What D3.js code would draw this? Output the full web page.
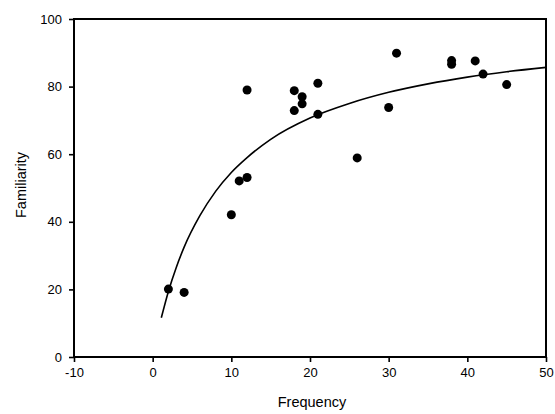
<!DOCTYPE html>
<html>
<head>
<meta charset="utf-8">
<script src="https://cdn.jsdelivr.net/npm/d3@7"></script>
<style>
  html, body { margin: 0; padding: 0; background: #fff; }
  svg { display: block; }
  text { font-family: "Liberation Sans", Arial, sans-serif; fill: #000; }
</style>
</head>
<body>
<svg id="chart"></svg>
<script>
// points
var freq = [2, 4, 10, 11, 12, 12, 18, 18, 19, 19, 21, 21, 26, 30, 31, 38, 38, 41, 42, 45];
var fam  = [20.1, 19.1, 42.1, 52.1, 53.1, 79.0, 78.8, 72.9, 77.0, 74.9, 81.0, 71.8, 58.9, 73.8, 89.9, 87.7, 86.6, 87.6, 83.7, 80.6];

// fitted curve as it appears in the picture
var curveX = [1.1, 2, 3, 4, 6, 8, 10, 12, 15, 20, 25, 30, 35, 40, 45, 50];
var curveY = [11.6, 19.4, 26.5, 32.5, 41.8, 49.0, 54.6, 59.0, 64.4, 70.7, 75.0, 78.3, 80.8, 82.8, 84.4, 85.7];

var xTicks = [-10, 0, 10, 20, 30, 40, 50];
var yTicks = [0, 20, 40, 60, 80, 100];

var svgWidth = 555, svgHeight = 414;
var margin = {top: 19, right: 9, bottom: 57, left: 74};
var width = svgWidth - margin.left - margin.right;
var height = svgHeight - margin.top - margin.bottom;

var xScale = d3.scaleLinear().domain([-10, 50]).range([0, width]);
var yScale = d3.scaleLinear().domain([0, 100]).range([height, 0]);

var svg = d3.select("#chart")
    .attr("width", svgWidth)
    .attr("height", svgHeight);

var g = svg.append("g")
    .attr("transform", "translate(" + margin.left + "," + margin.top + ")");

// frame
g.append("rect")
    .attr("x", 0).attr("y", 0)
    .attr("width", width).attr("height", height)
    .attr("fill", "none")
    .attr("stroke", "#000")
    .attr("stroke-width", 2);

// plain hyphen for negatives, like the original
var fmt = function(d) { return String(d); };

var xAxis = d3.axisBottom(xScale).tickValues(xTicks).tickSize(5).tickPadding(6).tickFormat(fmt);
var yAxis = d3.axisLeft(yScale).tickValues(yTicks).tickSize(5).tickPadding(7).tickFormat(fmt);

var gx = g.append("g")
    .attr("transform", "translate(0," + height + ")")
    .call(xAxis);
var gy = g.append("g").call(yAxis);

[gx, gy].forEach(function(a) {
    a.select(".domain").remove();
    a.selectAll(".tick line").attr("stroke", "#000").attr("stroke-width", 1.6);
    a.selectAll(".tick text")
        .style("font-size", "13px")
        .style("font-family", "'Liberation Sans', Arial, sans-serif");
});

// curve
var line = d3.line()
    .x(function(d) { return xScale(d[0]); })
    .y(function(d) { return yScale(d[1]); })
    .curve(d3.curveMonotoneX);

g.append("path")
    .datum(d3.zip(curveX, curveY))
    .attr("fill", "none")
    .attr("stroke", "#000")
    .attr("stroke-width", 1.6)
    .attr("d", line);

// dots
g.selectAll("circle.pt")
    .data(d3.zip(freq, fam))
    .enter().append("circle")
    .attr("class", "pt")
    .attr("cx", function(d) { return xScale(d[0]); })
    .attr("cy", function(d) { return yScale(d[1]); })
    .attr("r", 4.5)
    .attr("fill", "#000");

// axis titles
svg.append("text")
    .attr("x", margin.left + xScale(20) + 2)
    .attr("y", 407)
    .attr("text-anchor", "middle")
    .style("font-size", "14.5px")
    .text("Frequency");

svg.append("text")
    .attr("transform", "translate(26," + (margin.top + height / 2 - 3) + ") rotate(-90)")
    .attr("text-anchor", "middle")
    .style("font-size", "14.5px")
    .text("Familiarity");
</script>
</body>
</html>
